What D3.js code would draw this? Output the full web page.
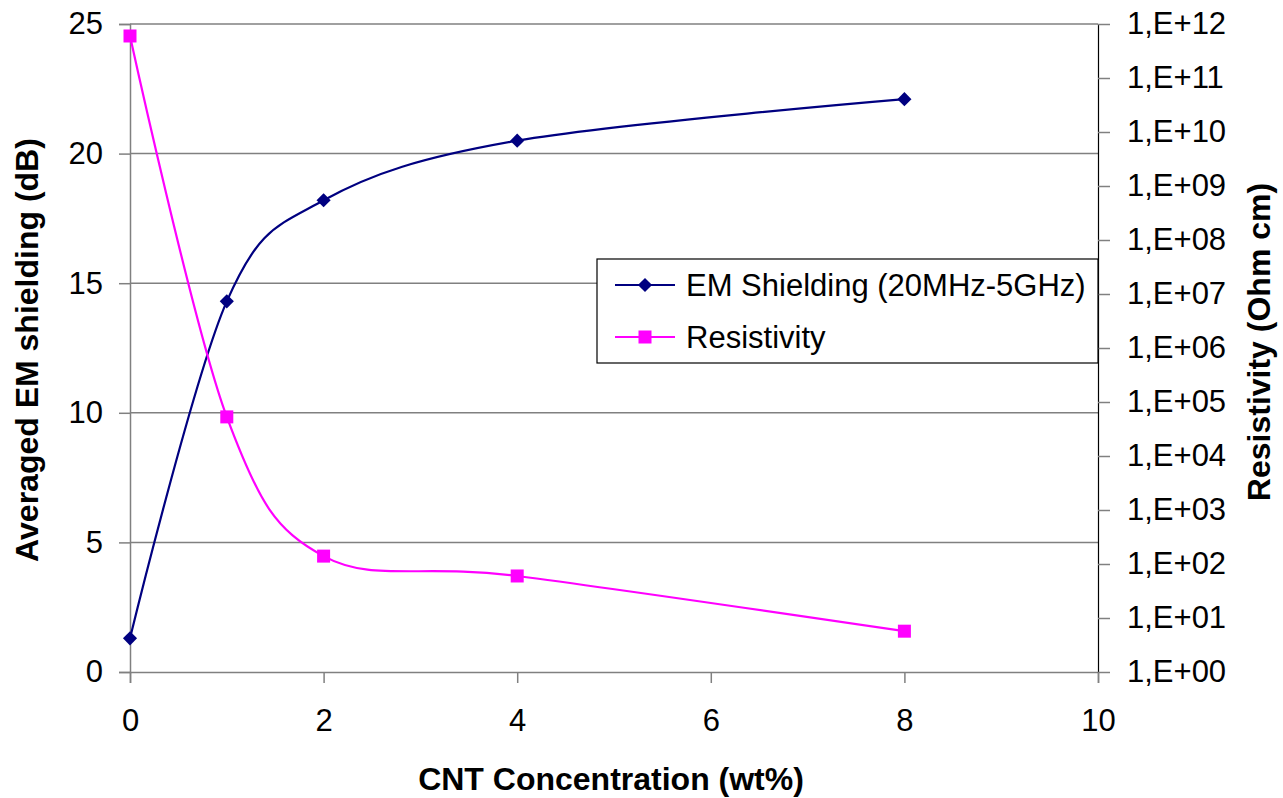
<!DOCTYPE html>
<html>
<head>
<meta charset="utf-8">
<script src="https://cdn.jsdelivr.net/npm/d3@7"></script>
<style>
  html, body { margin: 0; padding: 0; background: #fff; }
  svg { display: block; font-family: "Liberation Sans", Arial, sans-serif; }
</style>
</head>
<body>
<svg id="chart" width="1283" height="798"></svg>
<script>
// ---- data ----
const concentration = [0, 1, 2, 4, 8];
const emShielding = [1.3, 14.3, 18.2, 20.5, 22.1];
const resistivity = [6.0e11, 5.3e4, 1.4e2, 6.0e1, 5.7];
const xTicks = [0, 2, 4, 6, 8, 10];
const leftTicks = [0, 5, 10, 15, 20, 25];
const rightTicks = [1e0, 1e1, 1e2, 1e3, 1e4, 1e5, 1e6, 1e7, 1e8, 1e9, 1e10, 1e11, 1e12];
const rightTickLabels = ["1,E+00", "1,E+01", "1,E+02", "1,E+03", "1,E+04", "1,E+05", "1,E+06",
                         "1,E+07", "1,E+08", "1,E+09", "1,E+10", "1,E+11", "1,E+12"];
const seriesNames = ["EM Shielding (20MHz-5GHz)", "Resistivity"];

// ---- layout ----
const L = 130, R = 1098, T = 24, B = 672;
const svg = d3.select("#chart");

const x = d3.scaleLinear().domain([0, 10]).range([L, R]);
const yL = d3.scaleLinear().domain([0, 25]).range([B, T]);
const yR = d3.scaleLog().domain([1, 1e12]).range([B, T]);

const grey = "#808080";
const fs = 31;

// gridlines
svg.append("g").selectAll("line").data(leftTicks.filter(d => d > 0)).join("line")
  .attr("x1", L).attr("x2", R)
  .attr("y1", d => yL(d)).attr("y2", d => yL(d))
  .attr("stroke", grey).attr("stroke-width", 1.5);

// left axis
const gL = svg.append("g").attr("transform", `translate(${L},0)`)
  .call(d3.axisLeft(yL).tickValues(leftTicks).tickSize(11).tickPadding(16).tickFormat(d3.format("d")));
gL.select(".domain").attr("stroke", grey).attr("stroke-width", 1.5);
gL.selectAll(".tick line").attr("stroke", grey).attr("stroke-width", 1.5);
gL.selectAll(".tick text").attr("font-size", fs).attr("fill", "#000")
  .attr("font-family", "Liberation Sans, Arial, sans-serif");

// bottom axis
const gB = svg.append("g").attr("transform", `translate(0,${B})`)
  .call(d3.axisBottom(x).tickValues(xTicks).tickSize(11).tickPadding(26).tickFormat(d3.format("d")));
gB.select(".domain").attr("stroke", grey).attr("stroke-width", 1.5);
gB.selectAll(".tick line").attr("stroke", grey).attr("stroke-width", 1.5);
gB.selectAll(".tick text").attr("font-size", fs).attr("fill", "#000")
  .attr("font-family", "Liberation Sans, Arial, sans-serif");

// right axis
const gR = svg.append("g").attr("transform", `translate(${R},0)`)
  .call(d3.axisRight(yR).tickValues(rightTicks).tickSize(12).tickPadding(17)
    .tickFormat((d, i) => rightTickLabels[i]));
gR.select(".domain").attr("stroke", "#000").attr("stroke-width", 1.2);
gR.selectAll(".tick line").attr("stroke", grey).attr("stroke-width", 1.5);
gR.selectAll(".tick text").attr("font-size", fs).attr("fill", "#000")
  .attr("font-family", "Liberation Sans, Arial, sans-serif");

// axis titles
svg.append("text").attr("x", (L + R) / 2 - 3).attr("y", 790)
  .attr("text-anchor", "middle").attr("font-size", 32).attr("font-weight", "bold")
  .text("CNT Concentration (wt%)");
svg.append("text").attr("transform", `translate(38,${(T + B) / 2 + 2}) rotate(-90)`)
  .attr("text-anchor", "middle").attr("font-size", 32).attr("font-weight", "bold")
  .text("Averaged EM shielding (dB)");
svg.append("text").attr("transform", `translate(1270,${(T + B) / 2 - 6}) rotate(-90)`)
  .attr("text-anchor", "middle").attr("font-size", 32).attr("font-weight", "bold")
  .text("Resistivity (Ohm cm)");

// series
const emColor = "#000080", resColor = "#FF00FF";
const curve = d3.curveCardinal.tension(0);
const emData = concentration.map((c, i) => ({ c, v: emShielding[i] }));
const resData = concentration.map((c, i) => ({ c, v: resistivity[i] }));

const diamond = d3.symbol().type(d3.symbolDiamond2 || d3.symbolSquare).size(200);

svg.append("path").datum(emData)
  .attr("d", d3.line().x(d => x(d.c)).y(d => yL(d.v)).curve(curve))
  .attr("fill", "none").attr("stroke", emColor).attr("stroke-width", 2.2);
svg.append("g").selectAll("rect").data(emData).join("rect")
  .attr("x", -5).attr("y", -5).attr("width", 10).attr("height", 10)
  .attr("transform", d => `translate(${x(d.c)},${yL(d.v)}) rotate(45)`)
  .attr("fill", emColor);

svg.append("path").datum(resData)
  .attr("d", d3.line().x(d => x(d.c)).y(d => yR(d.v)).curve(curve))
  .attr("fill", "none").attr("stroke", resColor).attr("stroke-width", 2.2);
svg.append("g").selectAll("rect").data(resData).join("rect")
  .attr("x", d => x(d.c) - 6.5).attr("y", d => yR(d.v) - 6.5)
  .attr("width", 13).attr("height", 13)
  .attr("fill", resColor);

// legend
const lg = svg.append("g");
lg.append("rect").attr("x", 597).attr("y", 259).attr("width", R - 597).attr("height", 104)
  .attr("fill", "#fff").attr("stroke", "#000").attr("stroke-width", 1.2);
const rowsY = [285, 337];
const colors = [emColor, resColor];
seriesNames.forEach((name, i) => {
  lg.append("line").attr("x1", 615).attr("x2", 675).attr("y1", rowsY[i]).attr("y2", rowsY[i])
    .attr("stroke", colors[i]).attr("stroke-width", 2.2);
  if (i === 0) {
    lg.append("rect").attr("x", -5).attr("y", -5).attr("width", 10).attr("height", 10)
      .attr("transform", `translate(645,${rowsY[i]}) rotate(45)`).attr("fill", colors[i]);
  } else {
    lg.append("rect").attr("x", 645 - 6.5).attr("y", rowsY[i] - 6.5).attr("width", 13).attr("height", 13)
      .attr("fill", colors[i]);
  }
  lg.append("text").attr("x", 686).attr("y", rowsY[i] + 10.5)
    .attr("font-size", fs).attr("fill", "#000").text(name);
});
</script>
</body>
</html>
